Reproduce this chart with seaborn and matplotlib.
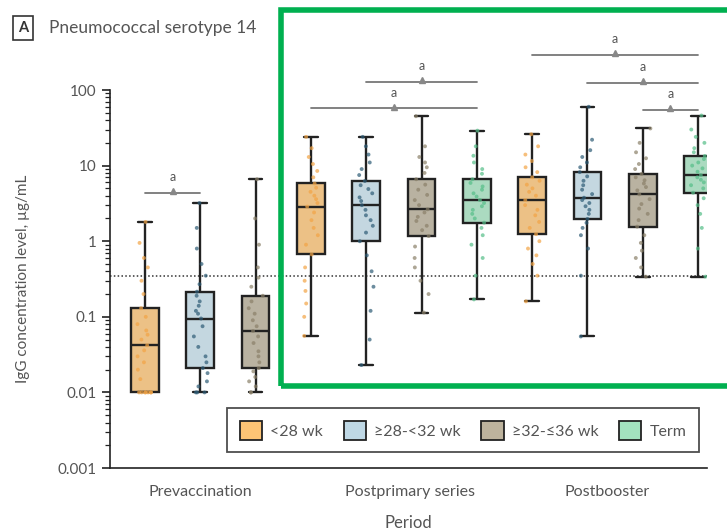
import numpy as np
import pandas as pd
import matplotlib
matplotlib.use("Agg")
import matplotlib.pyplot as plt
from matplotlib.patches import Rectangle
import seaborn as sns

# ---------------- data ----------------
periods = ["Prevaccination", "Postprimary series", "Postbooster"]
groups = ["<28 wk", "≥28-<32 wk", "≥32-≤36 wk", "Term"]

pre_lt28 = [0.01, 0.01, 0.01, 0.01, 0.01, 0.01, 0.01, 0.015, 0.02, 0.025, 0.03, 0.036, 0.042,
            0.05, 0.058, 0.066, 0.08, 0.1, 0.13, 0.2, 0.3, 0.45, 0.6, 0.95, 1.8]
pre_28_32 = [0.01, 0.01, 0.01, 0.012, 0.014, 0.018, 0.021, 0.025, 0.03, 0.04, 0.055, 0.075, 0.095,
             0.11, 0.12, 0.14, 0.16, 0.19, 0.215, 0.27, 0.35, 0.5, 0.8, 1.5, 3.2]
pre_32_36 = [0.01, 0.01, 0.012, 0.014, 0.016, 0.019, 0.021, 0.025, 0.03, 0.035, 0.045, 0.055, 0.065,
             0.075, 0.09, 0.11, 0.13, 0.16, 0.19, 0.25, 0.33, 0.45, 0.9, 2.0, 6.6]

pp_lt28 = [0.056, 0.1, 0.15, 0.22, 0.3, 0.45, 0.67, 0.9, 1.2, 1.5, 1.9, 2.4, 2.87,
           3.2, 3.6, 4.0, 4.5, 5.1, 5.8, 7.0, 8.5, 10.5, 13, 17, 24]
pp_28_32 = [0.023, 0.05, 0.12, 0.25, 0.4, 0.65, 1.0, 1.3, 1.6, 1.9, 2.2, 2.6, 3.0,
            3.4, 3.8, 4.3, 4.9, 5.5, 6.25, 7.5, 9, 11, 14, 18, 24]
pp_32_36 = [0.114, 0.2, 0.3, 0.45, 0.6, 0.85, 1.17, 1.4, 1.6, 1.85, 2.1, 2.4, 2.64,
            3.0, 3.5, 4.1, 4.8, 5.6, 6.6, 8, 9.5, 11, 13, 18, 45]
pp_term = [0.17, 0.35, 0.6, 0.9, 1.2, 1.5, 1.76, 2.0, 2.3, 2.6, 2.9, 3.2, 3.5,
           3.9, 4.3, 4.8, 5.3, 5.9, 6.6, 7.8, 9, 11, 13.5, 18, 29]

pb_lt28 = [0.16, 0.35, 0.5, 0.65, 0.8, 1.0, 1.24, 1.5, 1.8, 2.2, 2.6, 3.0, 3.5,
           4.0, 4.5, 5.0, 5.6, 6.3, 7.0, 8.2, 9.5, 11.5, 14, 18, 26]
pb_28_32 = [0.055, 0.35, 0.8, 1.2, 1.5, 1.75, 1.97, 2.3, 2.6, 2.9, 3.2, 3.5, 3.76,
            4.2, 4.8, 5.5, 6.3, 7.2, 8.2, 9.5, 11, 13, 16, 22, 60]
pb_32_36 = [0.34, 0.45, 0.6, 0.75, 0.95, 1.2, 1.56, 1.9, 2.3, 2.7, 3.1, 3.6, 4.17,
            4.7, 5.2, 5.8, 6.4, 7.0, 7.75, 9, 10.5, 12.5, 15, 20, 31]
pb_term = [0.34, 0.8, 1.5, 2.3, 3.0, 3.7, 4.38, 5.0, 5.5, 6.0, 6.5, 7.0, 7.5,
           8.3, 9.2, 10, 11, 12.2, 13.4, 15, 17, 20, 24, 30, 46]

threshold = 0.35
yticks = [0.001, 0.01, 0.1, 1, 10, 100]
ytick_labels = ["0.001", "0.01", "0.1", "1", "10", "100"]

# (period, group, values)
boxes = [
    (periods[0], groups[0], pre_lt28),
    (periods[0], groups[1], pre_28_32),
    (periods[0], groups[2], pre_32_36),
    (periods[1], groups[0], pp_lt28),
    (periods[1], groups[1], pp_28_32),
    (periods[1], groups[2], pp_32_36),
    (periods[1], groups[3], pp_term),
    (periods[2], groups[0], pb_lt28),
    (periods[2], groups[1], pb_28_32),
    (periods[2], groups[2], pb_32_36),
    (periods[2], groups[3], pb_term),
]

rows = []
slots = []
for p, g, vals in boxes:
    slot = f"{p}|{g}"
    slots.append(slot)
    for v in vals:
        rows.append({"slot": slot, "period": p, "group": g, "value": v})
df = pd.DataFrame(rows)

# significance comparisons: (slot index a, slot index b, height in data units)
comparisons = [
    (0, 1, 4.4),
    (4, 6, 129),
    (3, 6, 57),
    (7, 10, 290),
    (8, 10, 123),
    (9, 10, 54),
]

fill_colors = {groups[0]: "#FDC475", groups[1]: "#BFD8E5",
               groups[2]: "#BDB39D", groups[3]: "#A3E2BF"}
point_colors = {groups[0]: "#F3A445", groups[1]: "#2D5B75",
                groups[2]: "#8A8069", groups[3]: "#55BE88"}

# ---------------- plot ----------------
sns.set_theme(style="white")
plt.rcParams["font.family"] = ["Lato", "DejaVu Sans"]
np.random.seed(3)

fig = plt.figure(figsize=(7.27, 5.31), dpi=100)
ax = fig.add_axes([0.1513, 0.1186, 0.8212, 0.7119])

sns.boxplot(data=df, x="slot", y="value", hue="group", order=slots, hue_order=groups,
            palette=fill_colors, dodge=False, width=0.5, whis=(0, 100), log_scale=True,
            linecolor="#222222", linewidth=1.7, showfliers=False, legend=False, ax=ax,
            zorder=2)
sns.stripplot(data=df, x="slot", y="value", hue="group", order=slots, hue_order=groups,
              palette=point_colors, dodge=False, size=2.8, alpha=0.7, jitter=0.14,
              legend=False, ax=ax, zorder=3)

ax.set_yscale("log")
ax.set_ylim(0.001, 100)
ax.set_xlim(-0.63, 10.16)
ax.set_yticks(yticks)
ax.set_yticklabels(ytick_labels)
ax.yaxis.set_minor_locator(matplotlib.ticker.LogLocator(base=10, subs=np.arange(2, 10)))
ax.yaxis.set_minor_formatter(matplotlib.ticker.NullFormatter())
ax.tick_params(axis="y", which="major", length=6, width=1.2, color="#222222",
               labelsize=11, labelcolor="#555555", left=True)
ax.tick_params(axis="y", which="minor", length=3.5, width=0.9, color="#222222", left=True)

period_pos = [1.0, 4.8, 8.35]
ax.set_xticks(period_pos)
ax.set_xticklabels(periods)
ax.tick_params(axis="x", length=0, labelsize=11.5, labelcolor="#555555", pad=12)
ax.set_xlabel("Period", fontsize=12, color="#555555", labelpad=12)
ax.set_ylabel("IgG concentration level, µg/mL", fontsize=11, color="#555555", labelpad=20)

for s in ["top", "right"]:
    ax.spines[s].set_visible(False)
for s in ["left", "bottom"]:
    ax.spines[s].set_color("#222222")
    ax.spines[s].set_linewidth(1.2)

ax.axhline(threshold, color="#333333", linestyle=(0, (1, 1.5)), linewidth=1.1, zorder=1)

# significance brackets
for a, b, h in comparisons:
    ax.plot([a, b], [h, h], color="#777777", linewidth=1.3, clip_on=False, zorder=4)
    mid = (a + b) / 2
    ax.plot([mid], [h * 1.06], marker="^", color="#888888", markersize=5,
            clip_on=False, zorder=4)
    ax.text(mid, h * 1.35, "a", ha="center", va="bottom", fontsize=9,
            color="#555555", clip_on=False)

# legend
handles = [Rectangle((0, 0), 1, 1, facecolor=fill_colors[g], edgecolor="#222222",
                     linewidth=1.3) for g in groups]
leg = ax.legend(handles, groups, ncol=4, loc="lower right", bbox_to_anchor=(1.0, 0.02),
                frameon=True, fancybox=False, edgecolor="#222222", fontsize=11.5,
                handlelength=1.4, handleheight=1.4, columnspacing=1.3, handletextpad=0.5,
                borderpad=0.8)
leg.get_frame().set_linewidth(1.3)
for t in leg.get_texts():
    t.set_color("#555555")

# panel title
fig.text(0.0315, 0.947, "A", fontsize=10.5, fontweight="bold", color="#333333",
         ha="center", va="center",
         bbox=dict(boxstyle="square,pad=0.35", facecolor="white", edgecolor="#333333",
                   linewidth=1.2))
fig.text(0.068, 0.947, "Pneumococcal serotype 14", fontsize=12.5, color="#555555",
         ha="left", va="center")

# green highlight rectangle
fig.patches.append(Rectangle((281 / 727, 1 - 386 / 531), (745 - 281) / 727, (386 - 10) / 531,
                             transform=fig.transFigure, fill=False, edgecolor="#00B050",
                             linewidth=4, zorder=10))

fig.savefig("out.png", dpi=100)
